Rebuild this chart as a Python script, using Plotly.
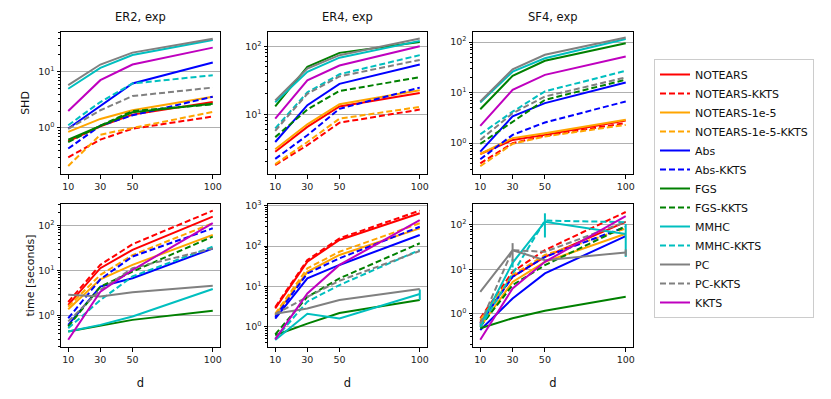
import plotly.graph_objects as go

D = [10, 30, 50, 100]
METHODS = ["NOTEARS", "NOTEARS-KKTS", "NOTEARS-1e-5", "NOTEARS-1e-5-KKTS",
           "Abs", "Abs-KKTS", "FGS", "FGS-KKTS", "MMHC", "MMHC-KKTS",
           "PC", "PC-KKTS", "KKTS"]
PANEL_TITLES = ["ER2, exp", "ER4, exp", "SF4, exp"]

# SHD values, rows follow METHODS
SHD_ER2 = [
    [0.58, 1.07, 1.73, 2.9],
    [0.30, 0.62, 0.97, 1.6],
    [0.85, 1.45, 2.07, 3.6],
    [0.21, 0.76, 1.0, 1.93],
    [0.98, 2.44, 6.2, 14.7],
    [0.43, 1.1, 1.68, 3.6],
    [0.62, 1.1, 1.9, 2.7],
    [0.56, 1.1, 2.0, 2.65],
    [5.0, 11.8, 20.0, 37.0],
    [1.12, 2.9, 6.2, 8.7],
    [5.8, 13.5, 22.0, 39.0],
    [0.96, 2.07, 3.7, 5.25],
    [2.0, 7.1, 13.5, 27.0],
]
SHD_ER4 = [
    [2.8, 6.5, 13.0, 20.6],
    [1.78, 3.5, 7.5, 11.7],
    [3.05, 7.1, 14.0, 22.5],
    [1.84, 3.9, 8.6, 12.8],
    [3.9, 13.6, 28.0, 54.0],
    [2.2, 4.9, 12.0, 24.6],
    [13.0, 50.0, 80.0, 116.0],
    [4.6, 11.7, 22.0, 35.0],
    [15.0, 42.0, 68.0, 120.0],
    [6.2, 21.0, 38.7, 74.0],
    [16.0, 47.0, 74.0, 130.0],
    [5.7, 20.0, 36.0, 63.0],
    [8.6, 31.6, 52.0, 100.0],
]
SHD_SF4 = [
    [0.61, 1.16, 1.46, 2.8],
    [0.40, 1.0, 1.4, 2.5],
    [0.61, 1.26, 1.58, 2.9],
    [0.35, 0.97, 1.36, 2.3],
    [0.68, 3.4, 6.2, 15.9],
    [0.48, 1.46, 2.57, 6.7],
    [4.7, 21.5, 42.7, 95.0],
    [0.97, 2.6, 7.2, 18.0],
    [6.4, 26.0, 48.0, 115.0],
    [1.5, 4.2, 10.6, 27.0],
    [6.7, 29.0, 56.0, 123.0],
    [1.16, 3.9, 8.4, 20.0],
    [2.2, 11.4, 22.5, 52.0],
]
# run time in seconds, rows follow METHODS
TIME_ER2 = [
    [1.73, 11.3, 28.8, 158.0],
    [2.0, 13.4, 38.5, 215.0],
    [1.38, 6.4, 13.4, 62.0],
    [1.58, 8.0, 22.0, 113.0],
    [0.62, 4.4, 6.75, 31.0],
    [0.87, 6.4, 20.5, 87.0],
    [0.44, 0.6, 0.8, 1.27],
    [0.57, 4.4, 9.5, 57.0],
    [0.44, 0.62, 0.95, 3.9],
    [0.52, 2.2, 7.4, 34.0],
    [2.9, 2.65, 3.3, 4.6],
    [0.74, 3.7, 11.3, 31.0],
    [0.29, 3.4, 10.3, 113.0],
]
TIME_ER4 = [
    [2.85, 41.0, 141.0, 645.0],
    [3.1, 45.0, 155.0, 750.0],
    [1.95, 23.0, 60.0, 273.0],
    [2.1, 28.0, 72.0, 365.0],
    [1.6, 15.8, 34.0, 188.0],
    [1.77, 21.0, 49.6, 300.0],
    [0.62, 1.2, 2.2, 4.6],
    [0.65, 5.5, 15.8, 117.0],
    [0.47, 2.1, 1.6, 6.5],
    [0.51, 4.2, 10.8, 80.0],
    [2.1, 2.85, 4.6, 8.6],
    [2.06, 5.5, 13.8, 75.0],
    [0.49, 6.7, 34.0, 440.0],
]
TIME_SF4 = [
    [0.66, 6.8, 19.0, 117.0],
    [0.79, 8.8, 27.0, 195.0],
    [0.51, 5.2, 14.7, 63.0],
    [0.72, 7.4, 21.0, 83.0],
    [0.43, 2.2, 8.1, 55.6],
    [0.6, 6.8, 19.0, 90.0],
    [0.47, 0.79, 1.17, 2.4],
    [0.51, 4.4, 12.4, 93.0],
    [0.55, 14.0, 117.0, 62.0],
    [0.5, 8.0, 125.0, 115.0],
    [3.1, 26.8, 16.0, 24.0],
    [0.6, 27.0, 24.7, 117.0],
    [0.26, 3.7, 14.7, 157.0],
]
# visible error bars (seconds)
ERR_TIME_ER4_MMHC = [0, 0, 0, 1.9]
ERR_TIME_SF4_MMHC = [0, 3.0, 65.0, 43.0]
ERR_TIME_SF4_PC = [0, 12.0, 0, 4.0]

Y_TICKS = [1, 10, 100, 1000]
Y_TICKTEXT = ["10<sup>0</sup>", "10<sup>1</sup>", "10<sup>2</sup>", "10<sup>3</sup>"]

COLORS = ["#ff0000", "#ff0000", "#ffa500", "#ffa500", "#0000ff", "#0000ff",
          "#008000", "#008000", "#00bfbf", "#00bfbf", "#808080", "#808080", "#bf00bf"]
DASHES = ["solid", "6px,3px", "solid", "6px,3px", "solid", "6px,3px",
          "solid", "6px,3px", "solid", "6px,3px", "solid", "6px,3px", "solid"]

panels = [
    (SHD_ER2, {}, [-0.82, 1.71]),
    (SHD_ER4, {}, [0.12, 2.21]),
    (SHD_SF4, {}, [-0.61, 2.2]),
    (TIME_ER2, {}, [-0.70, 2.48]),
    (TIME_ER4, {"MMHC": ERR_TIME_ER4_MMHC}, [-0.5, 3.04]),
    (TIME_SF4, {"MMHC": ERR_TIME_SF4_MMHC, "PC": ERR_TIME_SF4_PC}, [-0.75, 2.47]),
]

# the page body has an 8px margin: the figure is placed at (8, 8)
OFF = 8
W, H = 815, 383
col_px = [(61, 220), (268, 427), (473, 633)]   # window pixels
row_px = [(32, 174), (204, 347)]


def fx(px):
    return (px - OFF) / W


def fy(py):
    return 1 - (py - OFF) / H


fig = go.Figure()
minor_vals = [m * 10 ** e for e in range(-1, 4) for m in range(2, 10)]

for p, (data, errs, yr) in enumerate(panels):
    r, c = divmod(p, 3)
    idx = p + 1
    xa = "x" if idx == 1 else f"x{idx}"
    ya = "y" if idx == 1 else f"y{idx}"
    for i, name in enumerate(METHODS):
        tr = dict(
            x=D, y=data[i], mode="lines", name=name,
            line=dict(color=COLORS[i], width=2, dash=DASHES[i]),
            xaxis=xa, yaxis=ya, showlegend=(p == 0),
        )
        if name in errs:
            tr["error_y"] = dict(type="data", array=errs[name], width=0,
                                 thickness=2, color=COLORS[i])
        fig.add_trace(go.Scatter(**tr))

    x0, x1 = col_px[c]
    y0, y1 = row_px[r]
    axis_common = dict(showline=True, mirror=True, linecolor="black", linewidth=1,
                       ticks="outside", ticklen=3.5, tickcolor="black",
                       tickfont=dict(size=9.5, color="#222"), zeroline=False,
                       automargin=False)
    xkey = "xaxis" if idx == 1 else f"xaxis{idx}"
    ykey = "yaxis" if idx == 1 else f"yaxis{idx}"
    fig.layout[xkey] = dict(
        domain=[fx(x0), fx(x1)], range=[5.5, 104.5], tickvals=D,
        showgrid=False, anchor=ya,
        title=dict(text="d" if r == 1 else "", font=dict(size=11.5, color="#111")),
        **axis_common)
    fig.layout[ykey] = dict(
        domain=[fy(y1), fy(y0)], type="log", range=yr,
        tickvals=Y_TICKS, ticktext=Y_TICKTEXT,
        showgrid=True, gridcolor="#b0b0b0", gridwidth=1, anchor=xa,
        minor=dict(tickvals=minor_vals, ticks="outside", ticklen=2,
                   tickcolor="black", showgrid=False),
        **axis_common)
    if c == 0:
        fig.layout[ykey].title = dict(text="SHD" if r == 0 else "time [seconds]",
                                      font=dict(size=11, color="#111"),
                                      standoff=6 if r == 0 else 1)

for c, t in enumerate(PANEL_TITLES):
    x0, x1 = col_px[c]
    fig.add_annotation(text=t, x=fx((x0 + x1) / 2), y=fy(17), xref="paper",
                       yref="paper", showarrow=False, font=dict(size=11.5, color="#111"),
                       xanchor="center", yanchor="middle")

fig.update_layout(
    width=W, height=H, margin=dict(l=0, r=0, t=0, b=0),
    paper_bgcolor="white", plot_bgcolor="white",
    font=dict(family="DejaVu Sans", size=10, color="#111"),
    legend=dict(x=fx(654), y=fy(188.5), xanchor="left", yanchor="middle",
                bordercolor="#cccccc", borderwidth=1, bgcolor="white",
                font=dict(size=11, color="#111"), tracegroupgap=0,
                itemwidth=30),
)

fig.write_html("out.html")
